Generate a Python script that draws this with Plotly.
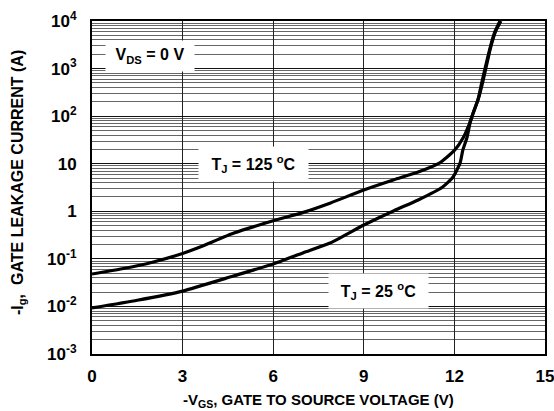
import numpy as np
import plotly.graph_objects as go

# Data
vgs_125 = [0, 1, 2, 3, 3.6, 4.7, 6, 7, 7.9, 9, 10, 10.8, 11.5, 12.0, 12.3, 12.5, 12.62, 12.78, 12.91, 13.18, 13.34, 13.51]
ig_125 = [0.048, 0.062, 0.085, 0.13, 0.18, 0.35, 0.63, 0.95, 1.5, 2.8, 4.6, 6.7, 10.3, 19, 36, 70, 115, 220, 520, 2700, 5900, 10000]

vgs_25 = [0, 1.5, 3, 4.7, 6, 7, 7.88, 9, 10, 10.8, 11.6, 11.95, 12.19, 12.28, 12.42, 12.52, 12.62, 12.8, 12.95, 13.2, 13.36, 13.54]
ig_25 = [0.0093, 0.0135, 0.021, 0.044, 0.078, 0.135, 0.215, 0.515, 1.03, 1.73, 3.2, 5.2, 10.4, 19.5, 36, 72, 116, 240, 560, 2800, 6000, 10000]

x_ticks = [0, 3, 6, 9, 12, 15]
y_tickvals = [1e-3, 1e-2, 1e-1, 1, 10, 1e2, 1e3, 1e4]
y_ticktext = ["10<sup>-3</sup>", "10<sup>-2</sup>", "10<sup>-1</sup>", "1", "10",
              "10<sup>2</sup>", "10<sup>3</sup>", "10<sup>4</sup>"]

FONT = "Liberation Sans, Arial, sans-serif"

fig = go.Figure()
fig.add_trace(go.Scatter(x=vgs_125, y=ig_125, mode="lines", line=dict(color="black", width=3.2, shape="spline", smoothing=0.5), showlegend=False))
fig.add_trace(go.Scatter(x=vgs_25, y=ig_25, mode="lines", line=dict(color="black", width=3.2, shape="spline", smoothing=0.5), showlegend=False))

def label(x, ylog, text, w, h):
    fig.add_annotation(x=x, y=ylog, xref="x", yref="y", text=text, showarrow=False,
                       bgcolor="white", width=w, height=h,
                       font=dict(family=FONT, size=16, color="black"))

label(1.92, 3.264, "<b>V<sub>DS</sub> = 0 V</b>", 86, 28)
label(5.35, 0.994, "<b>T<sub>J</sub> = 125 <sup>o</sup>C</b>", 107, 32)
label(9.49, -1.676, "<b>T<sub>J</sub> = 25 <sup>o</sup>C</b>", 97, 32)

fig.update_xaxes(range=[0, 15], tickvals=x_ticks, ticktext=[f"<b>{t}</b>" for t in x_ticks],
                 showgrid=True, gridcolor="#222", gridwidth=1,
                 showline=True, linecolor="black", linewidth=2, mirror=True,
                 ticks="", zeroline=False, automargin=False, ticklabelstandoff=6,
                 ticklabeloverflow="allow",
                 tickfont=dict(family=FONT, size=17, color="black"))
fig.update_yaxes(type="log", range=[-3, 4], tickvals=y_tickvals,
                 ticktext=[f"<b>{t}</b>" for t in y_ticktext],
                 showgrid=True, gridcolor="#111", gridwidth=1,
                 minor=dict(showgrid=True, gridcolor="#666", gridwidth=1, dtick="D1", ticks=""),
                 showline=True, linecolor="black", linewidth=2, mirror=True,
                 ticks="", zeroline=False, automargin=False, ticklabelstandoff=10,
                 ticklabeloverflow="allow",
                 tickfont=dict(family=FONT, size=17, color="black"))

W, H = 554, 411
L, R, T, B = 92, 9, 21, 57
pw, ph = W - L - R, H - T - B

fig.add_annotation(text="<b>-V<sub>GS</sub>, GATE TO SOURCE VOLTAGE (V)</b>",
                   xref="paper", yref="paper", x=(318 - L) / pw, y=-(400 - (T + ph)) / ph,
                   showarrow=False, font=dict(family=FONT, size=15, color="black"),
                   xanchor="center", yanchor="middle")
fig.add_annotation(text="<b>-I<sub>g</sub>,  GATE LEAKAGE CURRENT (A)</b>",
                   xref="paper", yref="paper", x=-(L - 18) / pw, y=1 - (183 - T) / ph,
                   showarrow=False, textangle=-90, font=dict(family=FONT, size=16, color="black"),
                   xanchor="center", yanchor="middle")

fig.update_layout(width=W, height=H, margin=dict(l=L, r=R, t=T, b=B),
                  plot_bgcolor="white", paper_bgcolor="white")

fig.write_html("out.html", config={"displayModeBar": False},
               post_script="document.body.style.margin='0';document.body.style.overflow='hidden';")
